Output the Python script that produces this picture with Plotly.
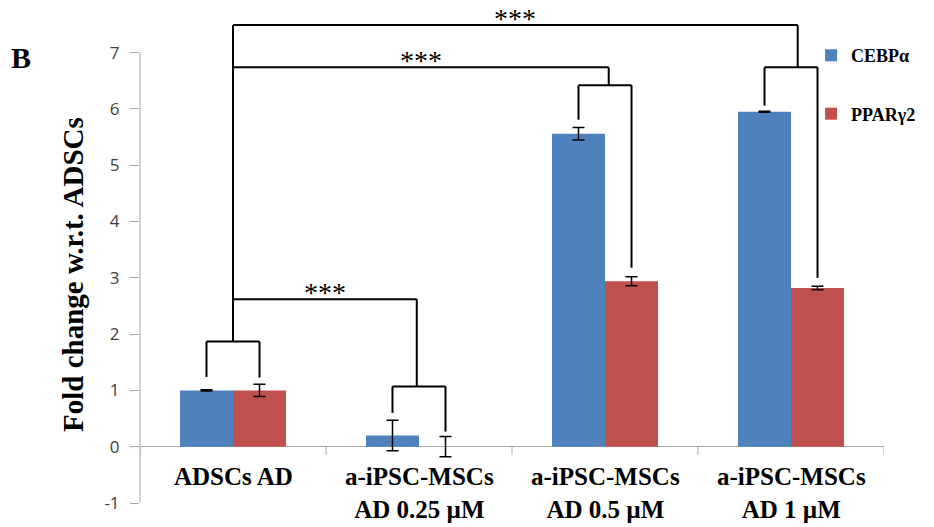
import plotly.graph_objects as go

# Gene expression fold change (relative to ADSCs) for each culture condition
categories = ["ADSCs AD", "a-iPSC-MSCs<br>AD 0.25 µM", "a-iPSC-MSCs<br>AD 0.5 µM", "a-iPSC-MSCs<br>AD 1 µM"]
cebpa = [1.00, 0.20, 5.56, 5.95]
cebpa_err = [0.01, 0.27, 0.11, 0.01]
pparg2 = [1.00, 0.00, 2.94, 2.82]
pparg2_err = [0.11, 0.18, 0.08, 0.03]

# Significance brackets: per-condition pairing level and leg ends (fold-change units)
pair_level = [1.87, 1.07, 6.42, 6.74]
leg_end_cebpa = [1.24, 0.60, 5.81, 6.06]
leg_end_pparg2 = [1.23, 0.27, 3.18, 3.00]
join_offset = [0.0, -0.012, 0.02, 0.036]
# (reference condition, compared condition, bracket level, label)
comparisons = [(0, 1, 2.62, "***"), (0, 2, 6.74, "***"), (0, 3, 7.49, "***")]

y_ticks = [-1, 0, 1, 2, 3, 4, 5, 6, 7]

BLUE = "#4F81BD"
RED = "#C0504D"
AXIS_GREY = "#A6A6A6"
SERIF = "Liberation Serif, Times New Roman, serif"

W, H = 934, 527
L, R, T, B = 140, 50, 2, 24
pw, ph = W - L - R, H - T - B

bargap = 0.43
bar_w = (1 - bargap) / 2
x_pos = list(range(len(categories)))

fig = go.Figure()
fig.add_trace(go.Bar(
    x=x_pos, y=cebpa, name="CEBPα", marker_color=BLUE, marker_line_width=0,
    error_y=dict(type="data", array=cebpa_err, color="black", thickness=1.5, width=6),
    legendgroup="a",
))
fig.add_trace(go.Bar(
    x=x_pos, y=pparg2, name="PPARγ2", marker_color=RED, marker_line_width=0,
    error_y=dict(type="data", array=pparg2_err, color="black", thickness=1.5, width=6),
    legendgroup="b",
))

shapes = []
line_style = dict(color="black", width=2)


def seg(x0, y0, x1, y1):
    shapes.append(dict(type="line", xref="x", yref="y", x0=x0, y0=y0, x1=x1, y1=y1, line=line_style))


# Pairing brackets joining the two bars of each condition
join_x = []
for i in x_pos:
    xb = i - bar_w / 2
    xr = i + bar_w / 2
    lvl = pair_level[i]
    seg(xb, lvl, xr, lvl)
    seg(xb, lvl, xb, leg_end_cebpa[i])
    seg(xr, lvl, xr, leg_end_pparg2[i])
    join_x.append(i + join_offset[i])

# Comparison brackets between conditions
annotations = []
top_level = max(c[2] for c in comparisons)
seg(join_x[0], pair_level[0], join_x[0], top_level)
for a, b, lvl, label in comparisons:
    seg(join_x[a], lvl, join_x[b], lvl)
    seg(join_x[b], lvl, join_x[b], pair_level[b])
    annotations.append(dict(
        x=(join_x[a] + join_x[b]) / 2, y=lvl, xref="x", yref="y", text=label,
        showarrow=False, yanchor="bottom", yshift=-11,
        font=dict(family=SERIF, size=28, color="black"),
    ))

# Y axis line spanning the tick range only
shapes.append(dict(type="line", xref="paper", yref="y", x0=0, x1=0, y0=y_ticks[0], y1=y_ticks[-1],
                   line=dict(color=AXIS_GREY, width=1)))
# Category boundary ticks below the zero line
for k in range(len(categories) + 1):
    shapes.append(dict(type="line", xref="x", yref="y", x0=k - 0.5, x1=k - 0.5, y0=0, y1=-0.145,
                       line=dict(color=AXIS_GREY, width=1)))

# Category labels under the zero line
for i, cat in enumerate(categories):
    annotations.append(dict(
        x=i, y=0, xref="x", yref="y", text=f"<b>{cat}</b>", showarrow=False,
        yanchor="top", yshift=-14, align="center",
        font=dict(family=SERIF, size=25, color="black"),
    ))

# Axis title and panel letter
annotations.append(dict(
    x=0, y=3.05, xref="paper", yref="y", xshift=-67, text="<b>Fold change w.r.t. ADSCs</b>",
    textangle=-90, showarrow=False, xanchor="center", yanchor="middle",
    font=dict(family=SERIF, size=29, color="black"),
))
annotations.append(dict(
    x=(21 - L) / pw, y=(H - B - 57) / ph, xref="paper", yref="paper", text="<b>B</b>",
    showarrow=False, xanchor="center", yanchor="middle",
    font=dict(family=SERIF, size=30, color="black"),
))

fig.update_layout(
    width=W, height=H,
    margin=dict(l=L, r=R, t=T, b=B),
    paper_bgcolor="white", plot_bgcolor="white",
    barmode="group", bargap=bargap, bargroupgap=0,
    showlegend=True,
    legend=dict(
        x=0.902, y=0.93, xanchor="left", yanchor="top",
        font=dict(family=SERIF, size=18, color="black", weight="bold"),
        tracegroupgap=32, bgcolor="rgba(0,0,0,0)",
    ),
    xaxis=dict(range=[-0.5, 3.5], visible=False, fixedrange=True),
    yaxis=dict(
        range=[-1, 7.9], tickvals=y_ticks, ticktext=[str(v) for v in y_ticks],
        ticks="outside", ticklen=9, tickcolor=AXIS_GREY, ticklabelstandoff=7,
        showgrid=False, showline=False, zeroline=True, zerolinecolor=AXIS_GREY, zerolinewidth=1,
        tickfont=dict(family="Open Sans, Noto Sans, sans-serif", size=17, color="#404040"),
        fixedrange=True,
    ),
    shapes=shapes,
    annotations=annotations,
)

fig.write_html("out.html")
